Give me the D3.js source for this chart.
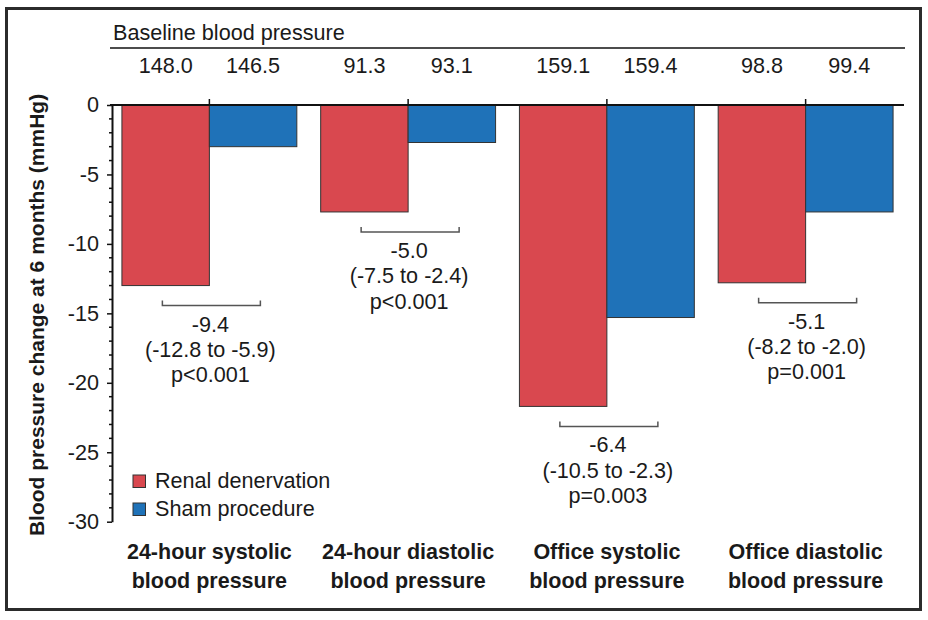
<!DOCTYPE html>
<html>
<head>
<meta charset="utf-8">
<script src="https://cdn.jsdelivr.net/npm/d3@7"></script>
<style>
  html, body { margin: 0; padding: 0; background: #fff; }
  svg { display: block; font-family: "Liberation Sans", Arial, Helvetica, sans-serif; }
</style>
</head>
<body>
<svg id="chart" width="928" height="620"></svg>
<script>
// ---- Data ----
const categories = [
  ["24-hour systolic", "blood pressure"],
  ["24-hour diastolic", "blood pressure"],
  ["Office systolic", "blood pressure"],
  ["Office diastolic", "blood pressure"]
];
const seriesNames = ["Renal denervation", "Sham procedure"];
const baselineRenal = [148.0, 91.3, 159.1, 98.8];
const baselineSham = [146.5, 93.1, 159.4, 99.4];
const changeRenal = [-13.0, -7.7, -21.7, -12.8];
const changeSham = [-3.0, -2.7, -15.3, -7.7];
const diffs = ["-9.4", "-5.0", "-6.4", "-5.1"];
const diffCI = ["(-12.8 to -5.9)", "(-7.5 to -2.4)", "(-10.5 to -2.3)", "(-8.2 to -2.0)"];
const diffP = ["p<0.001", "p<0.001", "p=0.003", "p=0.001"];
const yTicks = [0, -5, -10, -15, -20, -25, -30];
const baselineTitle = "Baseline blood pressure";
const yTitle = "Blood pressure change at 6 months (mmHg)";

// ---- Layout ----
const colors = ["#D9484F", "#1F72B8"];
const svg = d3.select("#chart");
const textColor = "#1a1a1a";
const fs = 21.6;

// frame
svg.append("rect")
  .attr("x", 6.5).attr("y", 8.5).attr("width", 914).attr("height", 601)
  .attr("fill", "none").attr("stroke", "#2b2b2b").attr("stroke-width", 3);

const x = d3.scaleBand()
  .domain(d3.range(categories.length))
  .range([110, 905])
  .paddingInner(0.12)
  .paddingOuter(0.06);
const xSub = d3.scaleBand().domain([0, 1]).range([0, x.bandwidth()]);
const y = d3.scaleLinear().domain([-30, 0]).range([521.7, 105]);

const groups = d3.range(categories.length).map(i => ({
  i,
  values: [changeRenal[i], changeSham[i]],
  baselines: [baselineRenal[i], baselineSham[i]]
}));

// bars
const g = svg.append("g");
groups.forEach(d => {
  d.values.forEach((v, j) => {
    g.append("rect")
      .attr("x", x(d.i) + xSub(j))
      .attr("y", y(0))
      .attr("width", xSub.bandwidth())
      .attr("height", y(v) - y(0))
      .attr("fill", colors[j])
      .attr("stroke", "#333")
      .attr("stroke-width", 1);
  });
});

// x axis at zero with upward ticks at group centres
const xAxisG = svg.append("g").attr("transform", `translate(0,${y(0)})`);
xAxisG.append("line")
  .attr("x1", 110).attr("x2", 904)
  .attr("stroke", "#111").attr("stroke-width", 2);
xAxisG.selectAll(".xt").data(d3.range(categories.length)).join("line")
  .attr("x1", d => x(d) + x.bandwidth() / 2).attr("x2", d => x(d) + x.bandwidth() / 2)
  .attr("y1", -6).attr("y2", 0)
  .attr("stroke", "#111").attr("stroke-width", 1.5);

// y axis
const yAxis = d3.axisLeft(y).tickValues(yTicks).tickSize(5).tickSizeOuter(0).tickPadding(8).tickFormat(d3.format("d"));
const yG = svg.append("g").attr("transform", "translate(112,0)").call(yAxis);
yG.select(".domain").attr("stroke", "#111").attr("stroke-width", 2);
yG.selectAll(".tick line").attr("stroke", "#111").attr("stroke-width", 1.5);
yG.selectAll(".tick text")
  .attr("font-size", fs).attr("fill", textColor)
  .attr("font-family", "'Liberation Sans', Arial, sans-serif")
  .text(d => d === 0 ? "0" : String(d));
// minor ticks
const minor = d3.range(-30, 1, 1).filter(v => v % 5 !== 0);
yG.selectAll(".minor").data(minor).join("line")
  .attr("x1", -3).attr("x2", 0)
  .attr("y1", d => y(d)).attr("y2", d => y(d))
  .attr("stroke", "#111").attr("stroke-width", 1.5);

// y title
svg.append("text")
  .attr("transform", `translate(44,${(93 + 537) / 2}) rotate(-90)`)
  .attr("text-anchor", "middle")
  .attr("font-size", 21).attr("font-weight", "bold").attr("fill", textColor)
  .text(yTitle);

// baseline header
svg.append("text")
  .attr("x", 113).attr("y", 40)
  .attr("font-size", fs).attr("fill", textColor)
  .text(baselineTitle);
svg.append("line")
  .attr("x1", 110).attr("x2", 905).attr("y1", 48).attr("y2", 48)
  .attr("stroke", "#111").attr("stroke-width", 1.5);
groups.forEach(d => {
  d.baselines.forEach((b, j) => {
    svg.append("text")
      .attr("x", x(d.i) + xSub(j) + xSub.bandwidth() / 2)
      .attr("y", 73)
      .attr("text-anchor", "middle")
      .attr("font-size", fs).attr("fill", textColor)
      .text(b.toFixed(1));
  });
});

// difference brackets and annotations
groups.forEach(d => {
  const cx = x(d.i) + x.bandwidth() / 2;
  const by = y(changeRenal[d.i]) + 20;
  const half = 49;
  svg.append("path")
    .attr("d", `M${cx + 2 - half},${by - 5}V${by}H${cx + 2 + half}V${by - 5}`)
    .attr("fill", "none").attr("stroke", "#555").attr("stroke-width", 1.5);
  [diffs[d.i], diffCI[d.i], diffP[d.i]].forEach((t, k) => {
    svg.append("text")
      .attr("x", cx + 1).attr("y", by + 26 + k * 25.3)
      .attr("text-anchor", "middle")
      .attr("font-size", fs).attr("fill", textColor)
      .text(t);
  });
});

// category labels
groups.forEach(d => {
  const cx = x(d.i) + x.bandwidth() / 2;
  categories[d.i].forEach((line, k) => {
    svg.append("text")
      .attr("x", cx).attr("y", 559 + k * 29)
      .attr("text-anchor", "middle")
      .attr("font-size", 21.5).attr("font-weight", "bold").attr("fill", textColor)
      .text(line);
  });
});

// legend
const leg = svg.append("g");
seriesNames.forEach((name, j) => {
  leg.append("rect")
    .attr("x", 133).attr("y", 475 + j * 28)
    .attr("width", 12.5).attr("height", 12.5)
    .attr("fill", colors[j]).attr("stroke", "#333").attr("stroke-width", 1);
  leg.append("text")
    .attr("x", 155).attr("y", 488 + j * 28)
    .attr("font-size", fs).attr("fill", textColor)
    .text(name);
});
</script>
</body>
</html>
